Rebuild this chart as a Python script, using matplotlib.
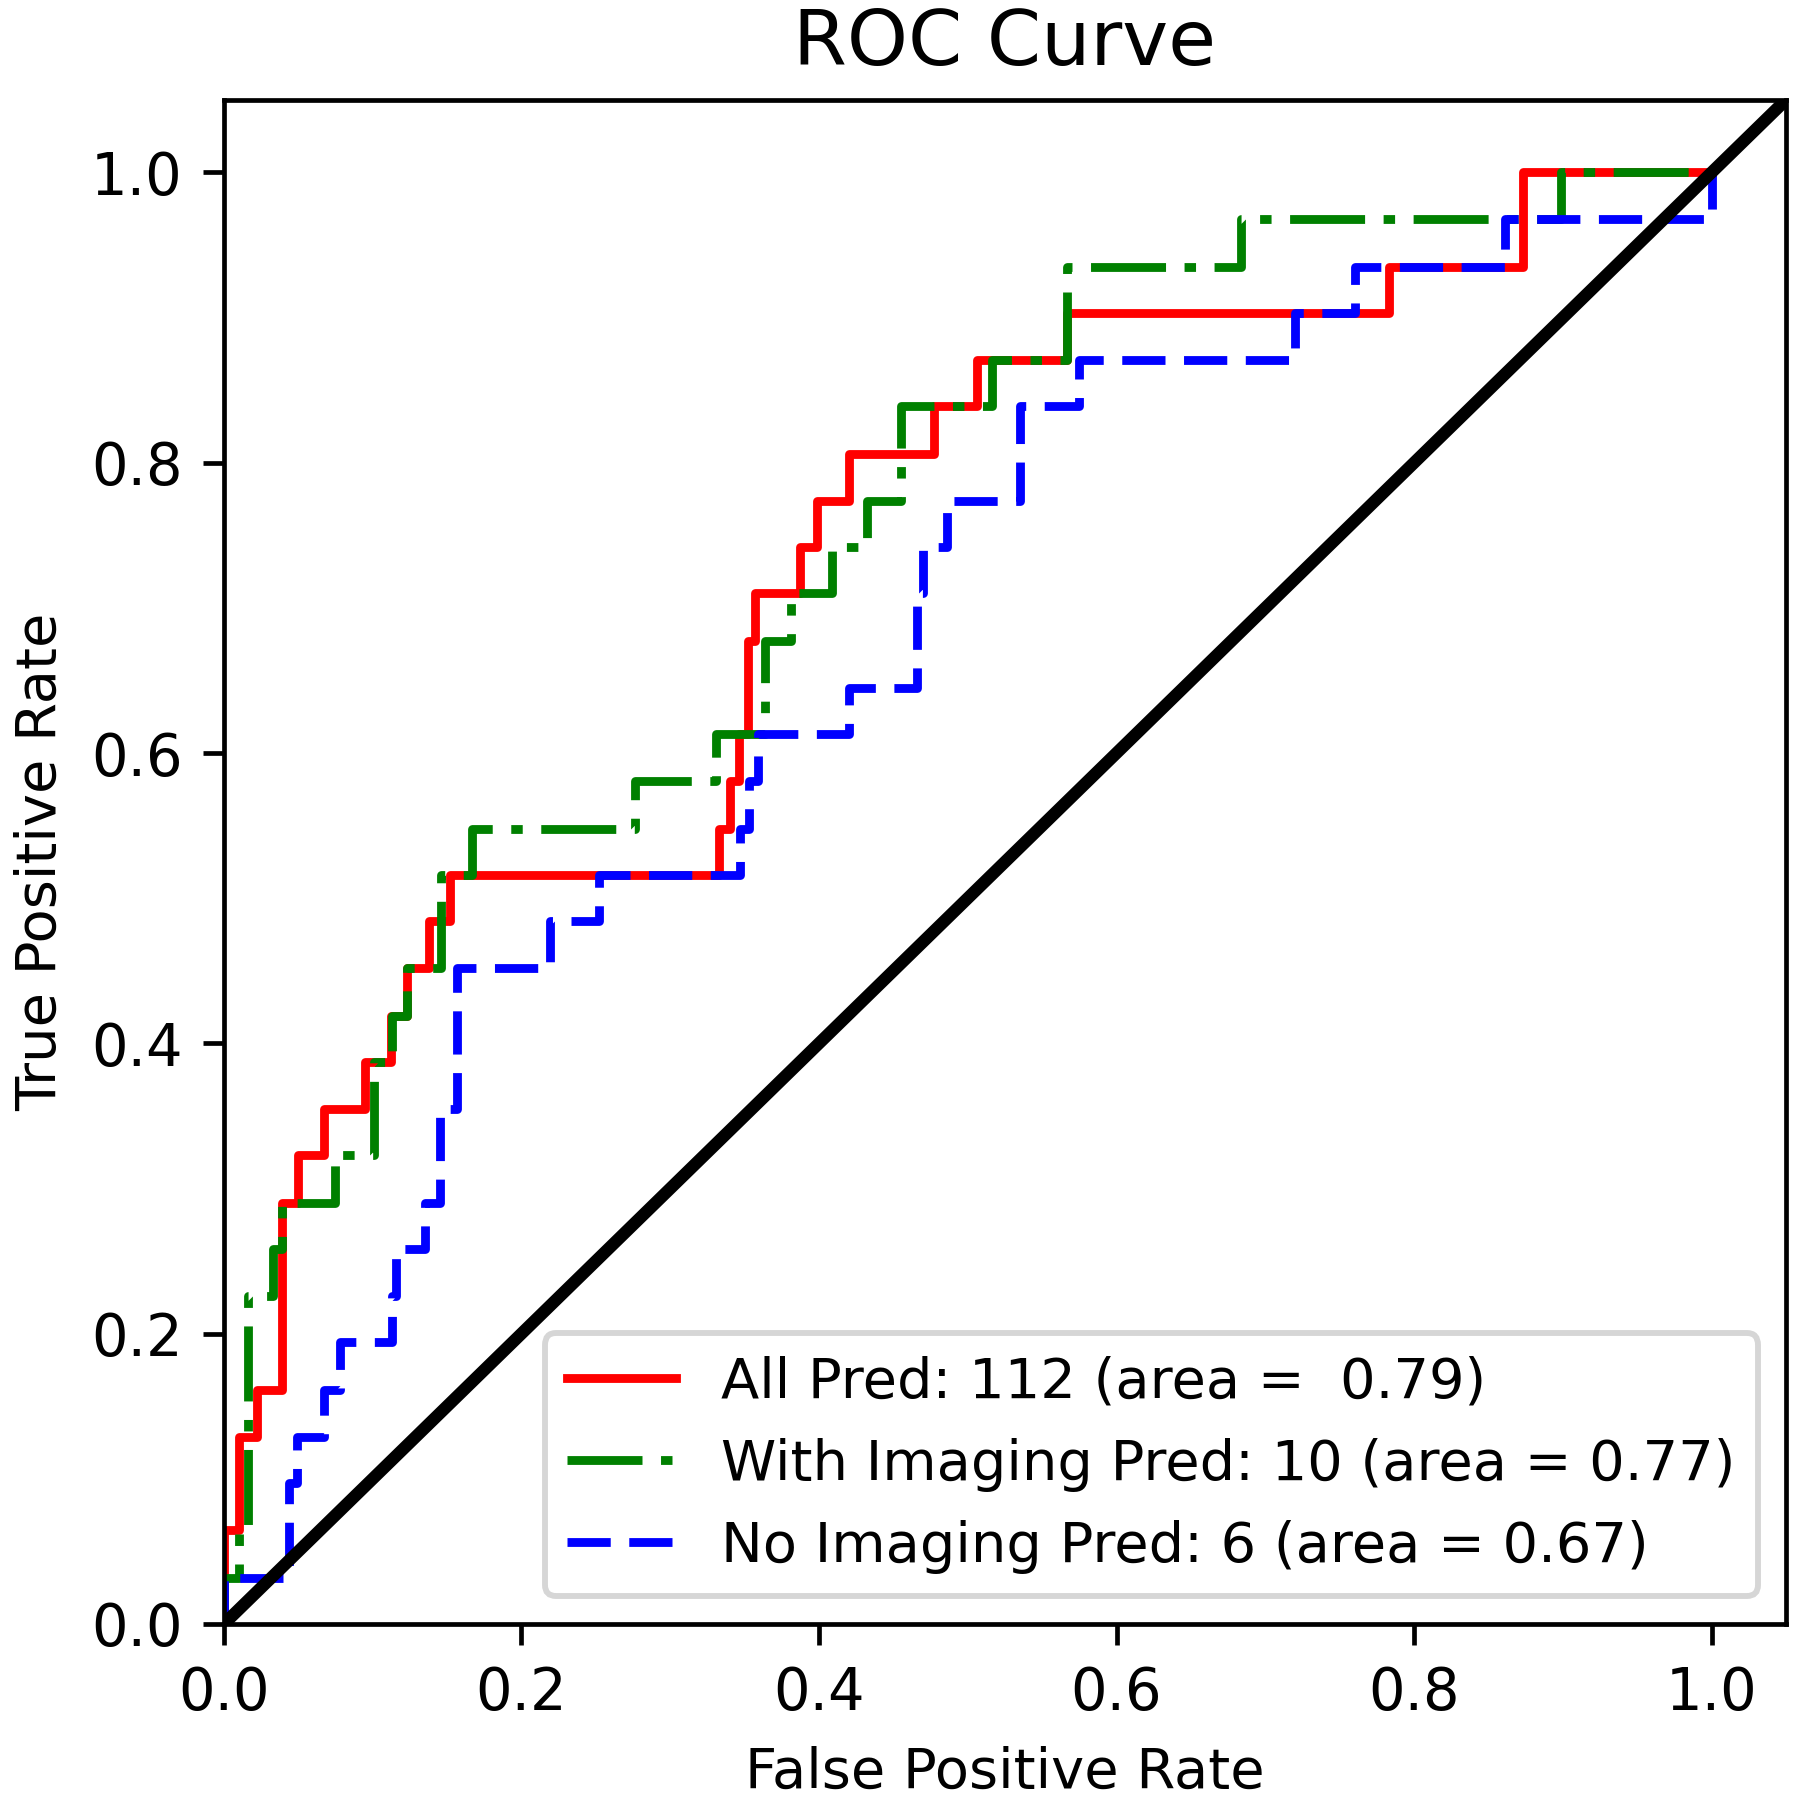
import matplotlib
matplotlib.use('Agg')
from matplotlib import pyplot as plt

# ROC step curves, corner points
fpr_all = [0.0, 0.0, 0.010, 0.010, 0.022, 0.022, 0.039, 0.039, 0.050, 0.050,
           0.067, 0.067, 0.095, 0.095, 0.112, 0.112, 0.123, 0.123, 0.138, 0.138,
           0.152, 0.152, 0.333, 0.333, 0.340, 0.340, 0.346, 0.346, 0.352, 0.352,
           0.357, 0.357, 0.387, 0.387, 0.399, 0.399, 0.420, 0.420, 0.477, 0.477,
           0.506, 0.506, 0.567, 0.567, 0.783, 0.783, 0.873, 0.873, 1.0]
tpr_all = [0.0, 0.065, 0.065, 0.129, 0.129, 0.161, 0.161, 0.290, 0.290, 0.323,
           0.323, 0.355, 0.355, 0.387, 0.387, 0.419, 0.419, 0.452, 0.452, 0.484,
           0.484, 0.516, 0.516, 0.548, 0.548, 0.581, 0.581, 0.613, 0.613, 0.677,
           0.677, 0.710, 0.710, 0.742, 0.742, 0.774, 0.774, 0.806, 0.806, 0.839,
           0.839, 0.871, 0.871, 0.903, 0.903, 0.935, 0.935, 1.0, 1.0]

fpr_img = [0.0, 0.0, 0.010, 0.010, 0.016, 0.016, 0.033, 0.033, 0.039, 0.039,
           0.075, 0.075, 0.101, 0.101, 0.113, 0.113, 0.123, 0.123, 0.146, 0.146,
           0.167, 0.167, 0.276, 0.276, 0.331, 0.331, 0.364, 0.364, 0.381, 0.381,
           0.409, 0.409, 0.432, 0.432, 0.455, 0.455, 0.516, 0.516, 0.567, 0.567,
           0.684, 0.684, 0.899, 0.899, 1.0]
tpr_img = [0.0, 0.032, 0.032, 0.065, 0.065, 0.226, 0.226, 0.258, 0.258, 0.290,
           0.290, 0.323, 0.323, 0.387, 0.387, 0.419, 0.419, 0.452, 0.452, 0.516,
           0.516, 0.548, 0.548, 0.581, 0.581, 0.613, 0.613, 0.677, 0.677, 0.710,
           0.710, 0.742, 0.742, 0.774, 0.774, 0.839, 0.839, 0.871, 0.871, 0.935,
           0.935, 0.968, 0.968, 1.0, 1.0]

fpr_noimg = [0.0, 0.0, 0.044, 0.044, 0.049, 0.049, 0.067, 0.067, 0.078, 0.078,
             0.113, 0.113, 0.116, 0.116, 0.135, 0.135, 0.145, 0.145, 0.157, 0.157,
             0.219, 0.219, 0.252, 0.252, 0.347, 0.347, 0.353, 0.353, 0.359, 0.359,
             0.420, 0.420, 0.466, 0.466, 0.470, 0.470, 0.486, 0.486, 0.535, 0.535,
             0.575, 0.575, 0.720, 0.720, 0.760, 0.760, 0.861, 0.861, 1.0, 1.0]
tpr_noimg = [0.0, 0.032, 0.032, 0.097, 0.097, 0.129, 0.129, 0.161, 0.161, 0.194,
             0.194, 0.226, 0.226, 0.258, 0.258, 0.290, 0.290, 0.355, 0.355, 0.452,
             0.452, 0.484, 0.484, 0.516, 0.516, 0.548, 0.548, 0.581, 0.581, 0.613,
             0.613, 0.645, 0.645, 0.710, 0.710, 0.742, 0.742, 0.774, 0.774, 0.839,
             0.839, 0.871, 0.871, 0.903, 0.903, 0.935, 0.935, 0.968, 0.968, 1.0]

labels = ['All Pred: 112 (area =  0.79)',
          'With Imaging Pred: 10 (area = 0.77)',
          'No Imaging Pred: 6 (area = 0.67)']
ticks = [0.0, 0.2, 0.4, 0.6, 0.8, 1.0]

fig = plt.figure(figsize=(4.25, 4.25), dpi=1800 / 4.25)
ax = fig.add_axes([0.1244, 0.0978, 0.8678, 0.8467])

lw = 1.5
ax.plot(fpr_all, tpr_all, color='r', lw=lw, label=labels[0])
ax.plot(fpr_img, tpr_img, color='g', lw=lw, dashes=(8.5, 2.1, 1.3, 2.1),
        label=labels[1])
ax.plot(fpr_noimg, tpr_noimg, color='b', lw=lw, dashes=(4.9, 2.1),
        label=labels[2])
ax.plot([0, 1.05], [0, 1.05], color='k', lw=2.1)

ax.set_xlim(0, 1.05)
ax.set_ylim(0, 1.05)
ax.set_xticks(ticks)
ax.set_yticks(ticks)
ax.tick_params(labelsize=9.8)
ax.set_xlabel('False Positive Rate', fontsize=9.5)
ax.set_ylabel('True Positive Rate', fontsize=9.5)
ax.set_title('ROC Curve', fontsize=13.2)
ax.legend(loc='lower right', fontsize=9.5, handlelength=1.95)

fig.savefig('out.png', dpi=1800 / 4.25)
